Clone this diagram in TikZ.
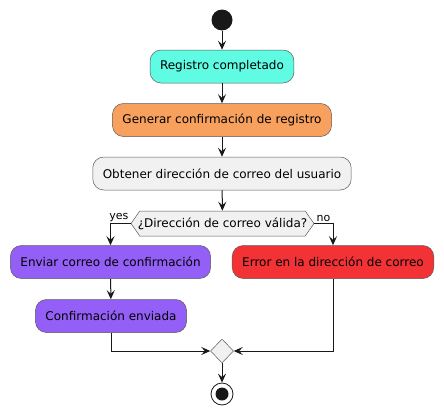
\documentclass[tikz,border=0pt]{standalone}
\usepackage{fontspec}
\setmainfont{DejaVu Sans}
\usepackage{tikz}
\usetikzlibrary{positioning,arrows.meta,shapes.geometric,shapes.symbols}
\definecolor{linecol}{HTML}{181818}
\definecolor{bordercol}{HTML}{5A5A5A}
\definecolor{turq}{HTML}{5FFBE3}
\definecolor{sandy}{HTML}{F8A15F}
\definecolor{lightgr}{HTML}{F1F1F1}
\definecolor{purp}{HTML}{935FF7}
\definecolor{errred}{HTML}{F33236}
\tikzset{
  actbox/.style={draw=bordercol,line width=0.5pt,rounded corners=11pt,minimum height=33pt,inner xsep=10pt,font=\fontsize{12}{14}\selectfont},
  flow/.style={draw=linecol,line width=1pt,-{Stealth[length=9pt,width=8pt,inset=3.5pt]}},
  branchlbl/.style={font=\fontsize{11}{13}\selectfont,inner sep=1pt}
}
\begin{document}
\begin{tikzpicture}[x=1pt,y=-1pt]
\useasboundingbox (0,0) rectangle (444,415);
\node[circle,fill=linecol,minimum size=21pt,inner sep=0pt] (start) at (222,20) {};
\node[actbox,fill=turq] (reg) at (222,66.5) {Registro completado};
\node[actbox,fill=sandy] (gen) at (222,120) {Generar confirmación de registro};
\node[actbox,fill=lightgr] (obt) at (222,173.5) {Obtener dirección de correo del usuario};
\node[draw=bordercol,line width=0.5pt,fill=lightgr,shape=signal,signal to=west and east,signal pointer angle=110,minimum height=25pt,inner xsep=-2pt,inner ysep=2pt,font=\fontsize{12}{14}\selectfont] (dec) at (222.5,223.5) {¿Dirección de correo válida?};
\node[actbox,fill=purp] (env) at (110.5,262) {Enviar correo de confirmación};
\node[actbox,fill=errred] (err) at (333,262) {Error en la dirección de correo};
\node[actbox,fill=purp] (conf) at (111,316) {Confirmación enviada};
\node[diamond,draw=bordercol,line width=0.5pt,fill=lightgr,minimum width=23pt,minimum height=24pt,inner sep=0pt] (merge) at (222,351) {};
\node[circle,draw=linecol,line width=0.8pt,fill=white,minimum size=22pt,inner sep=0pt] (stop) at (222,394) {};
\fill[linecol] (stop.center) circle (6.5pt);

\draw[flow] (start) -- (reg);
\draw[flow] (reg) -- (gen);
\draw[flow] (gen) -- (obt);
\draw[flow] (obt) -- (dec);
\draw[flow] (dec.west) -| node[branchlbl,pos=0.02,above left]{yes} (env.north);
\draw[flow] (dec.east) -| node[branchlbl,pos=0.02,above right]{no} (err.north);
\draw[flow] (env) -- (conf);
\draw[flow] (conf.south) |- (merge.west);
\draw[flow] (err.south) |- (merge.east);
\draw[flow] (merge) -- (stop);
\end{tikzpicture}
\end{document}
